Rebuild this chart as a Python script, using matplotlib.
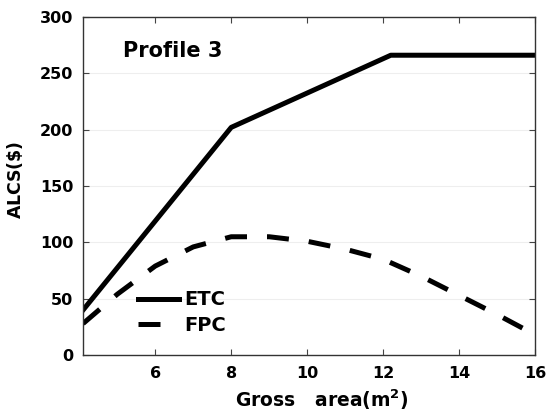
import numpy as np
import matplotlib.pyplot as plt

plt.rcParams['font.family'] = ['DejaVu Sans']
plt.rcParams['font.weight'] = 'bold'

# ETC curve (solid)
etc_x = [4.1, 8, 12.2, 16]
etc_y = [40, 202, 266, 266]

# FPC curve (dashed)
fpc_x = [4.1, 5, 6, 7, 8, 9, 10, 11, 12, 13, 14, 15, 16]
fpc_y = [28, 54, 79, 96, 105, 105, 101, 94, 85, 70, 53, 36, 18]

xticks = [6, 8, 10, 12, 14, 16]
yticks = [0, 50, 100, 150, 200, 250, 300]

fig = plt.figure(figsize=(5.5, 4.12), dpi=100)
ax = fig.add_axes([0.151, 0.138, 0.822, 0.821])

ax.plot(etc_x, etc_y, color='black', lw=3.6, label='ETC')
ax.plot(fpc_x, fpc_y, color='black', lw=3.6, ls=(0, (4.4, 4.0)), label='FPC')

ax.set_xlim(4.1, 16)
ax.set_ylim(0, 300)
ax.set_xticks(xticks)
ax.set_yticks(yticks)
ax.tick_params(direction='in', top=True, right=True, labelsize=11.5, length=4,
               width=0.8, color='#444444')
ax.tick_params(axis='x', pad=8)
ax.tick_params(axis='y', pad=7)
for lab in ax.get_xticklabels() + ax.get_yticklabels():
    lab.set_fontweight('bold')
for sp in ax.spines.values():
    sp.set_color('#333333')
    sp.set_linewidth(1.0)
ax.yaxis.grid(True, color='#eeeeee', lw=0.8)

ax.set_xlabel('Gross   area(m$^\\mathbf{2}$)', fontsize=13.5, fontweight='bold')
ax.xaxis.set_label_coords(0.529, -0.095)
ax.set_ylabel('ALCS($\\$$)', fontsize=12.5, fontweight='bold')
ax.yaxis.set_label_coords(-0.128, 0.518)

ax.text(5.15, 270, 'Profile 3', fontsize=15, fontweight='bold', va='center')

leg = ax.legend(loc='center left', bbox_to_anchor=(0.1, 0.125), frameon=False,
                prop={'size': 14, 'weight': 'bold'}, handlelength=2.1,
                handletextpad=0.3, labelspacing=0.35, borderpad=0)

fig.savefig('out.png')
